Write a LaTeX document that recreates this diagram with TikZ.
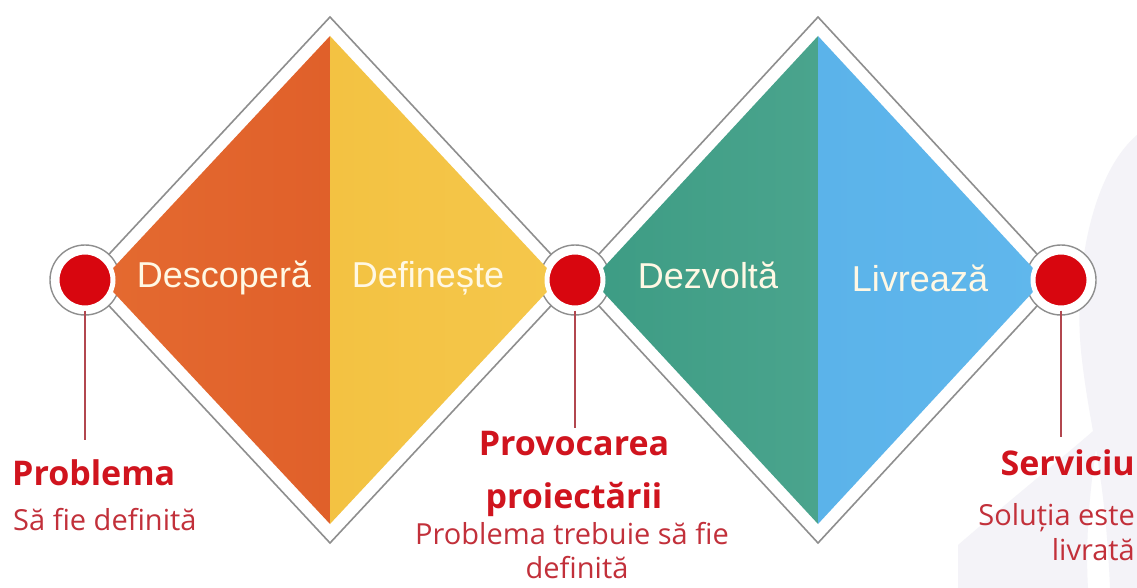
\documentclass[tikz,border=0pt]{standalone}
\usepackage{fontspec}
\setmainfont{Liberation Sans}
\newfontfamily\hand{Open Sans}
\definecolor{cOrange}{HTML}{E0602A}
\definecolor{cOrangeL}{HTML}{E46A30}
\definecolor{cYellow}{HTML}{F3C242}
\definecolor{cYellowL}{HTML}{F5C74B}
\definecolor{cTeal}{HTML}{3D9C84}
\definecolor{cTealL}{HTML}{4AA48D}
\definecolor{cBlue}{HTML}{5BB3EA}
\definecolor{cBlueL}{HTML}{60B7EC}
\definecolor{cRed}{HTML}{D8060F}
\definecolor{cGrayLine}{HTML}{8E8E8E}
\definecolor{cText}{HTML}{FFF8E4}
\definecolor{cLab}{HTML}{D0141E}
\definecolor{cLab2}{HTML}{C2303A}
\definecolor{cStem}{HTML}{B2474F}
\definecolor{cBg}{HTML}{F4F3F8}
\begin{document}
\begin{tikzpicture}[x=1pt,y=-1pt,
  outl/.style={draw=cGrayLine,line width=1.6pt,line join=miter},
  ring/.style={circle,draw=cGrayLine,line width=1.4pt,fill=white,minimum size=70pt,inner sep=0pt},
  dot/.style={circle,fill=cRed,draw=white,line width=5pt,minimum size=56pt,inner sep=0pt},
  stem/.style={draw=cStem,line width=1.8pt},
  phase/.style={text=cText,font=\fontsize{36}{40}\selectfont,inner sep=0pt,anchor=base},
  head/.style={text=cLab,font=\hand\bfseries\fontsize{34}{40}\selectfont,inner sep=0pt,anchor=base},
  sub/.style={text=cLab2,font=\hand\fontsize{29}{33}\selectfont,inner sep=0pt,anchor=base}]
\fill[white] (0,0) rectangle (1137,588);
\useasboundingbox (0,0) rectangle (1137,588);
% faint background shapes
\fill[cBg] (1137,135) .. controls (1090,175) and (1072,280) .. (1082,360)
  .. controls (1090,430) and (1105,470) .. (1110,588) -- (1137,588) -- cycle;
\fill[cBg] (958,545) .. controls (1010,500) and (1060,460) .. (1100,425)
  .. controls (1090,480) and (1085,540) .. (1088,588) -- (958,588) -- cycle;
% outer diamonds
\fill[white] (85,280) -- (330,17) -- (575,280) -- (330,543) -- cycle;
\fill[white] (575,280) -- (818,17) -- (1061,280) -- (818,543) -- cycle;
\draw[outl] (85,280) -- (330,17) -- (575,280) -- (330,543) -- cycle;
\draw[outl] (575,280) -- (818,17) -- (1061,280) -- (818,543) -- cycle;
% rings
\node[ring] (r1) at (85,280) {};
\node[ring] (r2) at (575,280) {};
\node[ring] (r3) at (1061,280) {};
% inner diamonds
\shade[left color=cOrangeL,right color=cOrange] (102,280) -- (330,36) -- (330,524) -- cycle;
\shade[left color=cYellow,right color=cYellowL] (330,36) -- (558,280) -- (330,524) -- cycle;
\shade[left color=cTeal,right color=cTealL] (592,280) -- (818,36) -- (818,524) -- cycle;
\shade[left color=cBlue,right color=cBlueL] (818,36) -- (1044,280) -- (818,524) -- cycle;
% red dots
\node[dot] (d1) at (85,280) {};
\node[dot] (d2) at (575,280) {};
\node[dot] (d3) at (1061,280) {};
% stems
\coordinate (e1) at (85,440);
\coordinate (e2) at (575,428);
\coordinate (e3) at (1061,437);
\draw[stem] (d1.south) -- (e1);
\draw[stem] (d2.south) -- (e2);
\draw[stem] (d3.south) -- (e3);
% phase labels
\node[phase] (t1) at (224,287) {Descoperă};
\node[phase] (t2) at (428,287) {Definește};
\node[phase] (t3) at (708,288) {Dezvoltă};
\node[phase] (t4) at (920,291) {Livrează};
% labels
\node[head,anchor=base west] (h1) at (12,485) {Problema};
\node[sub,anchor=base west] (s1) at (13,530) {Să fie definită};
\node[head] (h2) at (574,455) {Provocarea};
\node[head] (h3) at (574,508) {proiectării};
\node[sub] (s2) at (572,544) {Problema trebuie să fie};
\node[sub] (s3) at (577,578) {definită};
\node[head,anchor=base east] (h4) at (1135,475) {Serviciu};
\node[sub,anchor=base east] (s4) at (1135,525) {Soluția este};
\node[sub,anchor=base east] (s5) at (1135,560) {livrată};
\end{tikzpicture}
\end{document}
